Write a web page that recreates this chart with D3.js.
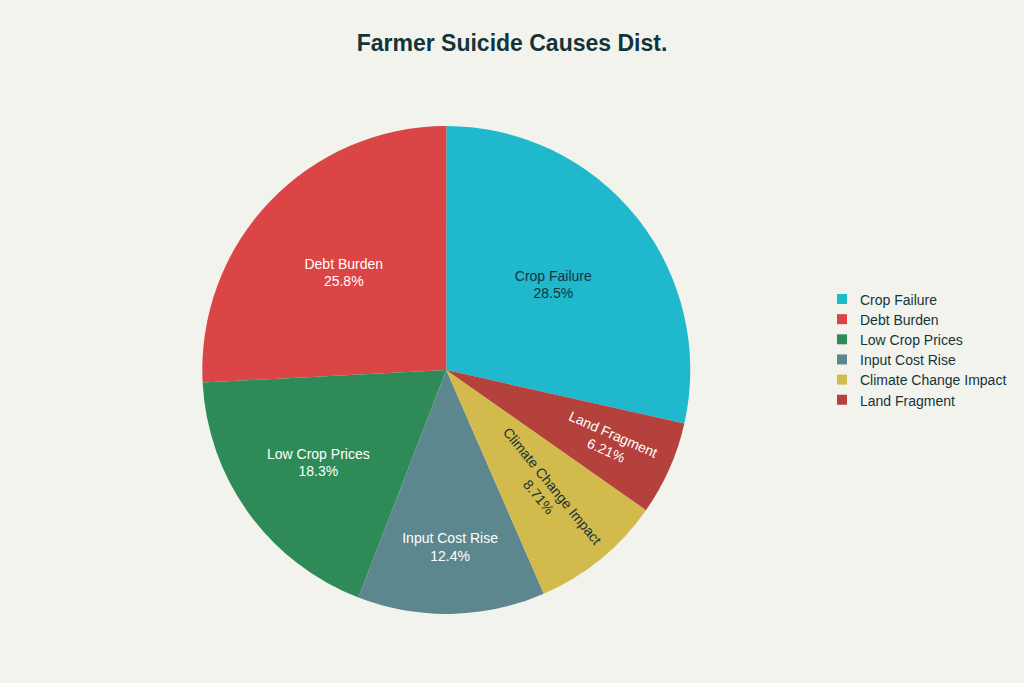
<!DOCTYPE html>
<html>
<head>
<meta charset="utf-8">
<script src="https://cdn.jsdelivr.net/npm/d3@7"></script>
<style>
  html, body { margin: 0; padding: 0; background: #F3F3EE; }
  svg { display: block; }
</style>
</head>
<body>
<svg id="chart" width="1024" height="683"></svg>
<script>
// ---- data ----
const categories = ["Crop Failure", "Debt Burden", "Low Crop Prices", "Input Cost Rise", "Climate Change Impact", "Land Fragment"];
const values = [28.5, 25.8, 18.3, 12.4, 8.71, 6.21];   // percent of causes
const colors = ["#1FB8CD", "#DB4545", "#2E8B57", "#5D878F", "#D2BA4C", "#B4413C"];
const textColors = ["#13343B", "#FFFFFF", "#FFFFFF", "#FFFFFF", "#13343B", "#FFFFFF"];
const titleText = "Farmer Suicide Causes Dist.";

// ---- layout ----
const W = 1024, H = 683;
const cx = 446.3, cy = 370, R = 244;
const fontFamily = "'Liberation Sans', Arial, sans-serif";
const darkText = "#13343B";

const svg = d3.select("#chart");
svg.append("rect").attr("width", W).attr("height", H).attr("fill", "#F3F3EE");

svg.append("text")
  .attr("x", W / 2).attr("y", 50.5)
  .attr("text-anchor", "middle")
  .attr("font-family", fontFamily)
  .attr("font-weight", "bold")
  .attr("font-size", 23)
  .attr("fill", darkText)
  .text(titleText);

const total = d3.sum(values);
const start = values[0] / total * 2 * Math.PI;
const pie = d3.pie().sort(null).value(d => d).startAngle(start).endAngle(start - 2 * Math.PI);
const arcs = pie(values);
const arcGen = d3.arc().innerRadius(0).outerRadius(R);

const g = svg.append("g").attr("transform", `translate(${cx},${cy})`);

g.selectAll("path.slice")
  .data(arcs)
  .join("path")
  .attr("class", "slice")
  .attr("d", arcGen)
  .attr("fill", (d, i) => colors[i]);

const fmt = d3.format(".3~r");
const TEXTPAD = 3;

function calcMaxHalfSize(a, halfAngle, r) {
  const q = a + 1 / (2 * Math.tan(halfAngle));
  return r * Math.min(1 / (Math.sqrt(q * q + 0.5) + q), 1 / (Math.sqrt(a * a + 0.5) + a));
}
function norm(deg) {
  while (deg > 90) deg -= 180;
  while (deg <= -90) deg += 180;
  return deg;
}

arcs.forEach((d, i) => {
  const lab = g.append("g");
  const t = lab.append("text")
    .attr("font-family", fontFamily)
    .attr("font-size", 14)
    .attr("fill", textColors[i])
    .attr("text-anchor", "middle");
  t.append("tspan").attr("x", 0).attr("y", 0).text(categories[i]);
  t.append("tspan").attr("x", 0).attr("dy", 17.5).text(fmt(values[i]) + "%");
  const bb = t.node().getBBox();
  // center the text block on origin
  t.attr("transform", `translate(0,${-(bb.y + bb.height / 2)})`);

  const half = Math.abs(d.endAngle - d.startAngle) / 2;
  const mid = (d.startAngle + d.endAngle) / 2;
  const rIns = Math.min(1 / (1 + 1 / Math.sin(half)), 0.5);
  const diam = Math.sqrt(bb.width * bb.width + bb.height * bb.height);
  let tr;
  const horiz = { scale: rIns * R * 2 / diam, rc: 1 - rIns, rot: 0 };
  if (horiz.scale >= 1) {
    tr = horiz;
  } else {
    const rr = R - 2 * TEXTPAD;
    const aR = bb.width / bb.height;
    const sR = calcMaxHalfSize(aR, half, rr);
    const bR = sR / rr;
    const rad = { scale: sR * 2 / bb.height, rc: Math.sqrt(1 - bR * bR) - aR * bR, rot: norm(mid * 180 / Math.PI - 90) };
    const aT = bb.height / bb.width;
    const sT = calcMaxHalfSize(aT, half, rr);
    const bT = sT / rr;
    const tan = { scale: sT * 2 / bb.width, rc: Math.sqrt(1 - bT * bT) - aT * bT, rot: norm(mid * 180 / Math.PI) };
    tr = [horiz, rad, tan].reduce((m, o) => (o.scale > m.scale ? o : m));
  }
  const s = Math.min(1, tr.scale);
  const px = R * tr.rc * Math.sin(mid);
  const py = -R * tr.rc * Math.cos(mid);
  lab.attr("transform", `translate(${px},${py}) rotate(${tr.rot}) scale(${s})`);
});

// ---- legend ----
const legend = svg.append("g").attr("transform", "translate(837,294)");
const rowH = 20.15;
categories.forEach((c, i) => {
  const row = legend.append("g").attr("transform", `translate(0,${i * rowH})`);
  row.append("rect").attr("x", 0).attr("y", 0).attr("width", 10).attr("height", 10).attr("fill", colors[i]);
  row.append("text")
    .attr("x", 23).attr("y", 10.8)
    .attr("font-family", fontFamily)
    .attr("font-size", 14)
    .attr("fill", darkText)
    .text(c);
});
</script>
</body>
</html>
